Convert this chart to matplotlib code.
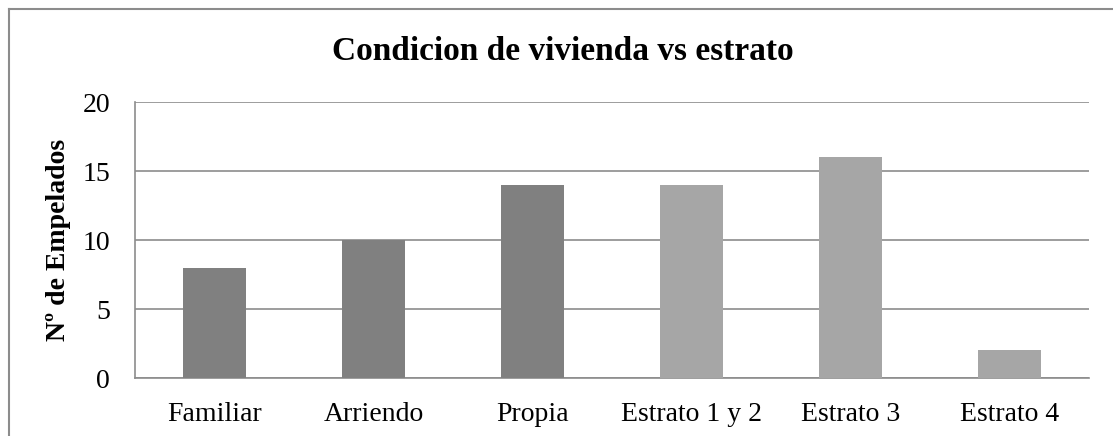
import matplotlib
matplotlib.use("Agg")
import matplotlib.pyplot as plt
from matplotlib.lines import Line2D

categories = ["Familiar", "Arriendo", "Propia", "Estrato 1 y 2", "Estrato 3", "Estrato 4"]
values = [8, 10, 14, 14, 16, 2]
bar_colors = ["#808080", "#808080", "#808080", "#a6a6a6", "#a6a6a6", "#a6a6a6"]
yticks = [0, 5, 10, 15, 20]
title = "Condicion de vivienda vs estrato"
ylabel = "Nº de Empelados"

plt.rcParams["font.family"] = ["Liberation Serif", "DejaVu Serif"]

fig = plt.figure(figsize=(11.13, 4.36), dpi=100)
ax = fig.add_axes([135/1113, 1-378/436, (1089-135)/1113, (378-102)/436])

x = list(range(len(categories)))
ax.bar(x, values, width=0.40, color=bar_colors, zorder=3)
ax.set_xlim(-0.5, len(categories) - 0.5)
ax.set_ylim(0, 20)
ax.set_yticks(yticks)
ax.set_xticks(x)
ax.set_xticklabels(categories, fontsize=20)
ax.tick_params(axis="y", labelsize=20, length=0, pad=18)
ax.tick_params(axis="x", length=0, pad=17)
ax.grid(axis="y", color="#8c8c8c", linewidth=1.2, zorder=0)
for s in ["top", "right"]:
    ax.spines[s].set_visible(False)
for s in ["left", "bottom"]:
    ax.spines[s].set_color("#8c8c8c")
    ax.spines[s].set_linewidth(1.2)
ax.set_ylabel(ylabel, fontsize=20, fontweight="bold", labelpad=8)

fig.text(563/1113, 1-52/436, title, ha="center", va="center", fontsize=24, fontweight="bold")

# outer chart frame (top and left edges visible)
fig.add_artist(Line2D([8.5/1113, 1.0], [1-9.5/436, 1-9.5/436], transform=fig.transFigure, color="#8c8c8c", linewidth=1.5))
fig.add_artist(Line2D([8.5/1113, 8.5/1113], [0, 1-9.5/436], transform=fig.transFigure, color="#8c8c8c", linewidth=1.5))

fig.savefig("out.png", dpi=100)
